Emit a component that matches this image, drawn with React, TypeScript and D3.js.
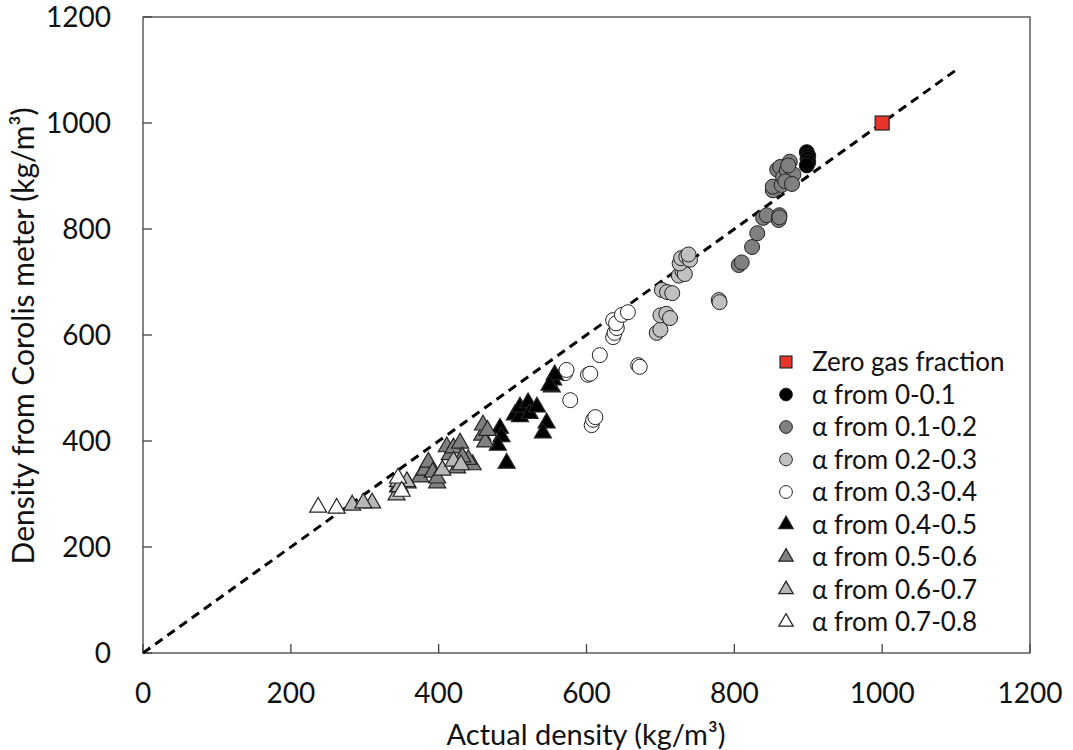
import React from "react";
import * as d3 from "d3";

const xTicks = [0, 200, 400, 600, 800, 1000, 1200];
const yTicks = [0, 200, 400, 600, 800, 1000, 1200];

const zeroGas: [number, number][] = [[1000, 1000]];
const alpha0_01: [number, number][] = [[898, 945], [900, 938], [899, 932], [900, 926], [898, 920]];
const alpha01_02: [number, number][] = [
  [806, 732], [810, 737], [824, 766], [831, 792], [839, 821], [844, 826], [860, 817], [861, 826], [861, 822],
  [852, 873], [852, 880], [858, 912], [862, 917], [864, 883], [866, 898], [871, 911], [875, 927], [880, 903],
  [869, 890], [873, 920], [878, 885],
];
const alpha02_03: [number, number][] = [
  [695, 604], [700, 610], [700, 637], [708, 640], [713, 632], [702, 685], [709, 681], [716, 679], [725, 712],
  [730, 720], [733, 715], [726, 735], [728, 745], [735, 748], [740, 742], [738, 752], [779, 666], [780, 662],
];
const alpha03_04: [number, number][] = [
  [571, 528], [573, 534], [578, 477], [602, 525], [605, 527], [607, 430], [609, 440], [612, 445], [618, 562],
  [636, 596], [638, 604], [641, 613], [636, 628], [640, 622], [648, 638], [656, 643], [670, 543], [672, 540],
];
const alpha04_05: [number, number][] = [
  [483, 424], [485, 408], [480, 392], [492, 358], [503, 449], [510, 446], [510, 464], [521, 472], [523, 452],
  [533, 464], [546, 434], [541, 415], [553, 502], [555, 515], [557, 525], [550, 505],
];
const alpha05_06: [number, number][] = [
  [375, 332], [381, 345], [386, 360], [392, 341], [398, 321], [398, 330], [411, 389], [415, 374], [420, 387],
  [425, 349], [429, 396], [446, 355], [459, 411], [460, 430], [463, 398], [466, 420], [440, 365], [432, 370],
];
const alpha06_07: [number, number][] = [
  [283, 279], [310, 283], [298, 283], [343, 298], [345, 313], [358, 321], [345, 323], [357, 323], [347, 314],
  [405, 345], [420, 362], [430, 355],
];
const alpha07_08: [number, number][] = [[237, 275], [262, 273], [345, 330], [350, 305]];

type Series = { label: string; shape: "square" | "circle" | "triangle"; fill: string; data: [number, number][] };
const series: Series[] = [
  { label: "Zero gas fraction", shape: "square", fill: "#e8342a", data: zeroGas },
  { label: "α from 0-0.1", shape: "circle", fill: "#000000", data: alpha0_01 },
  { label: "α from 0.1-0.2", shape: "circle", fill: "#808080", data: alpha01_02 },
  { label: "α from 0.2-0.3", shape: "circle", fill: "#c0c0c0", data: alpha02_03 },
  { label: "α from 0.3-0.4", shape: "circle", fill: "#ffffff", data: alpha03_04 },
  { label: "α from 0.4-0.5", shape: "triangle", fill: "#000000", data: alpha04_05 },
  { label: "α from 0.5-0.6", shape: "triangle", fill: "#808080", data: alpha05_06 },
  { label: "α from 0.6-0.7", shape: "triangle", fill: "#b8b8b8", data: alpha06_07 },
  { label: "α from 0.7-0.8", shape: "triangle", fill: "#ffffff", data: alpha07_08 },
];

const W = 1073, H = 750;
const L = 143, R = 1030, T = 17, B = 653;
const FONT = "Lato, 'Open Sans', sans-serif";

function Marker({ s, x, y, scale }: { s: Series; x: number; y: number; scale: number }) {
  const stroke = "#222";
  if (s.shape === "circle") return <circle cx={x} cy={y} r={7.5 * scale} fill={s.fill} stroke={stroke} strokeWidth={1} />;
  if (s.shape === "square") {
    const h = 7 * scale;
    return <rect x={x - h} y={y - h} width={2 * h} height={2 * h} fill={s.fill} stroke={stroke} strokeWidth={1.2} />;
  }
  const p = d3.symbol().type(d3.symbolTriangle).size(125 * scale * scale)()!;
  return <path d={p} transform={`translate(${x},${y})`} fill={s.fill} stroke={stroke} strokeWidth={1.2} />;
}

export default function App() {
  const x = d3.scaleLinear().domain([0, 1200]).range([L, R]);
  const y = d3.scaleLinear().domain([0, 1200]).range([B, T]);
  const axisColor = "#444";
  return (
    <svg width={W} height={H} style={{ position: "absolute", left: 0, top: 0, background: "#fff" }} fontFamily={FONT}>
      <rect x={L} y={T} width={R - L} height={B - T} fill="none" stroke={axisColor} strokeWidth={1.3} />
      {xTicks.map((t) => (
        <g key={"x" + t}>
          <line x1={x(t)} x2={x(t)} y1={B} y2={B - 9} stroke={axisColor} strokeWidth={1.3} />
          <text x={x(t)} y={703} textAnchor="middle" fontSize={28} fill="#111">{t}</text>
        </g>
      ))}
      {yTicks.map((t) => (
        <g key={"y" + t}>
          <line x1={L} x2={L + 9} y1={y(t)} y2={y(t)} stroke={axisColor} strokeWidth={1.3} />
          <text x={111} y={y(t)} dy="0.36em" textAnchor="end" fontSize={28} fill="#111">{t}</text>
        </g>
      ))}
      <line x1={x(0)} y1={y(0)} x2={x(1100)} y2={y(1100)} stroke="#000" strokeWidth={3} strokeDasharray="9,6" />
      {series.map((s) =>
        s.data.map((d, i) => <Marker key={s.label + i} s={s} x={x(d[0])} y={y(d[1])} scale={1} />)
      )}
      {series.map((s, i) => (
        <g key={"leg" + i}>
          <Marker s={s} x={786} y={362 + i * 32.5} scale={0.85} />
          <text x={812} y={362 + i * 32.5} dy="0.36em" fontSize={26} fill="#111">{s.label}</text>
        </g>
      ))}
      <text x={586} y={745} textAnchor="middle" fontSize={29} fill="#111">Actual density (kg/m³)</text>
      <text transform={`translate(34,336) rotate(-90)`} textAnchor="middle" fontSize={30} fill="#111">
        Density from Corolis meter (kg/m³)
      </text>
    </svg>
  );
}
